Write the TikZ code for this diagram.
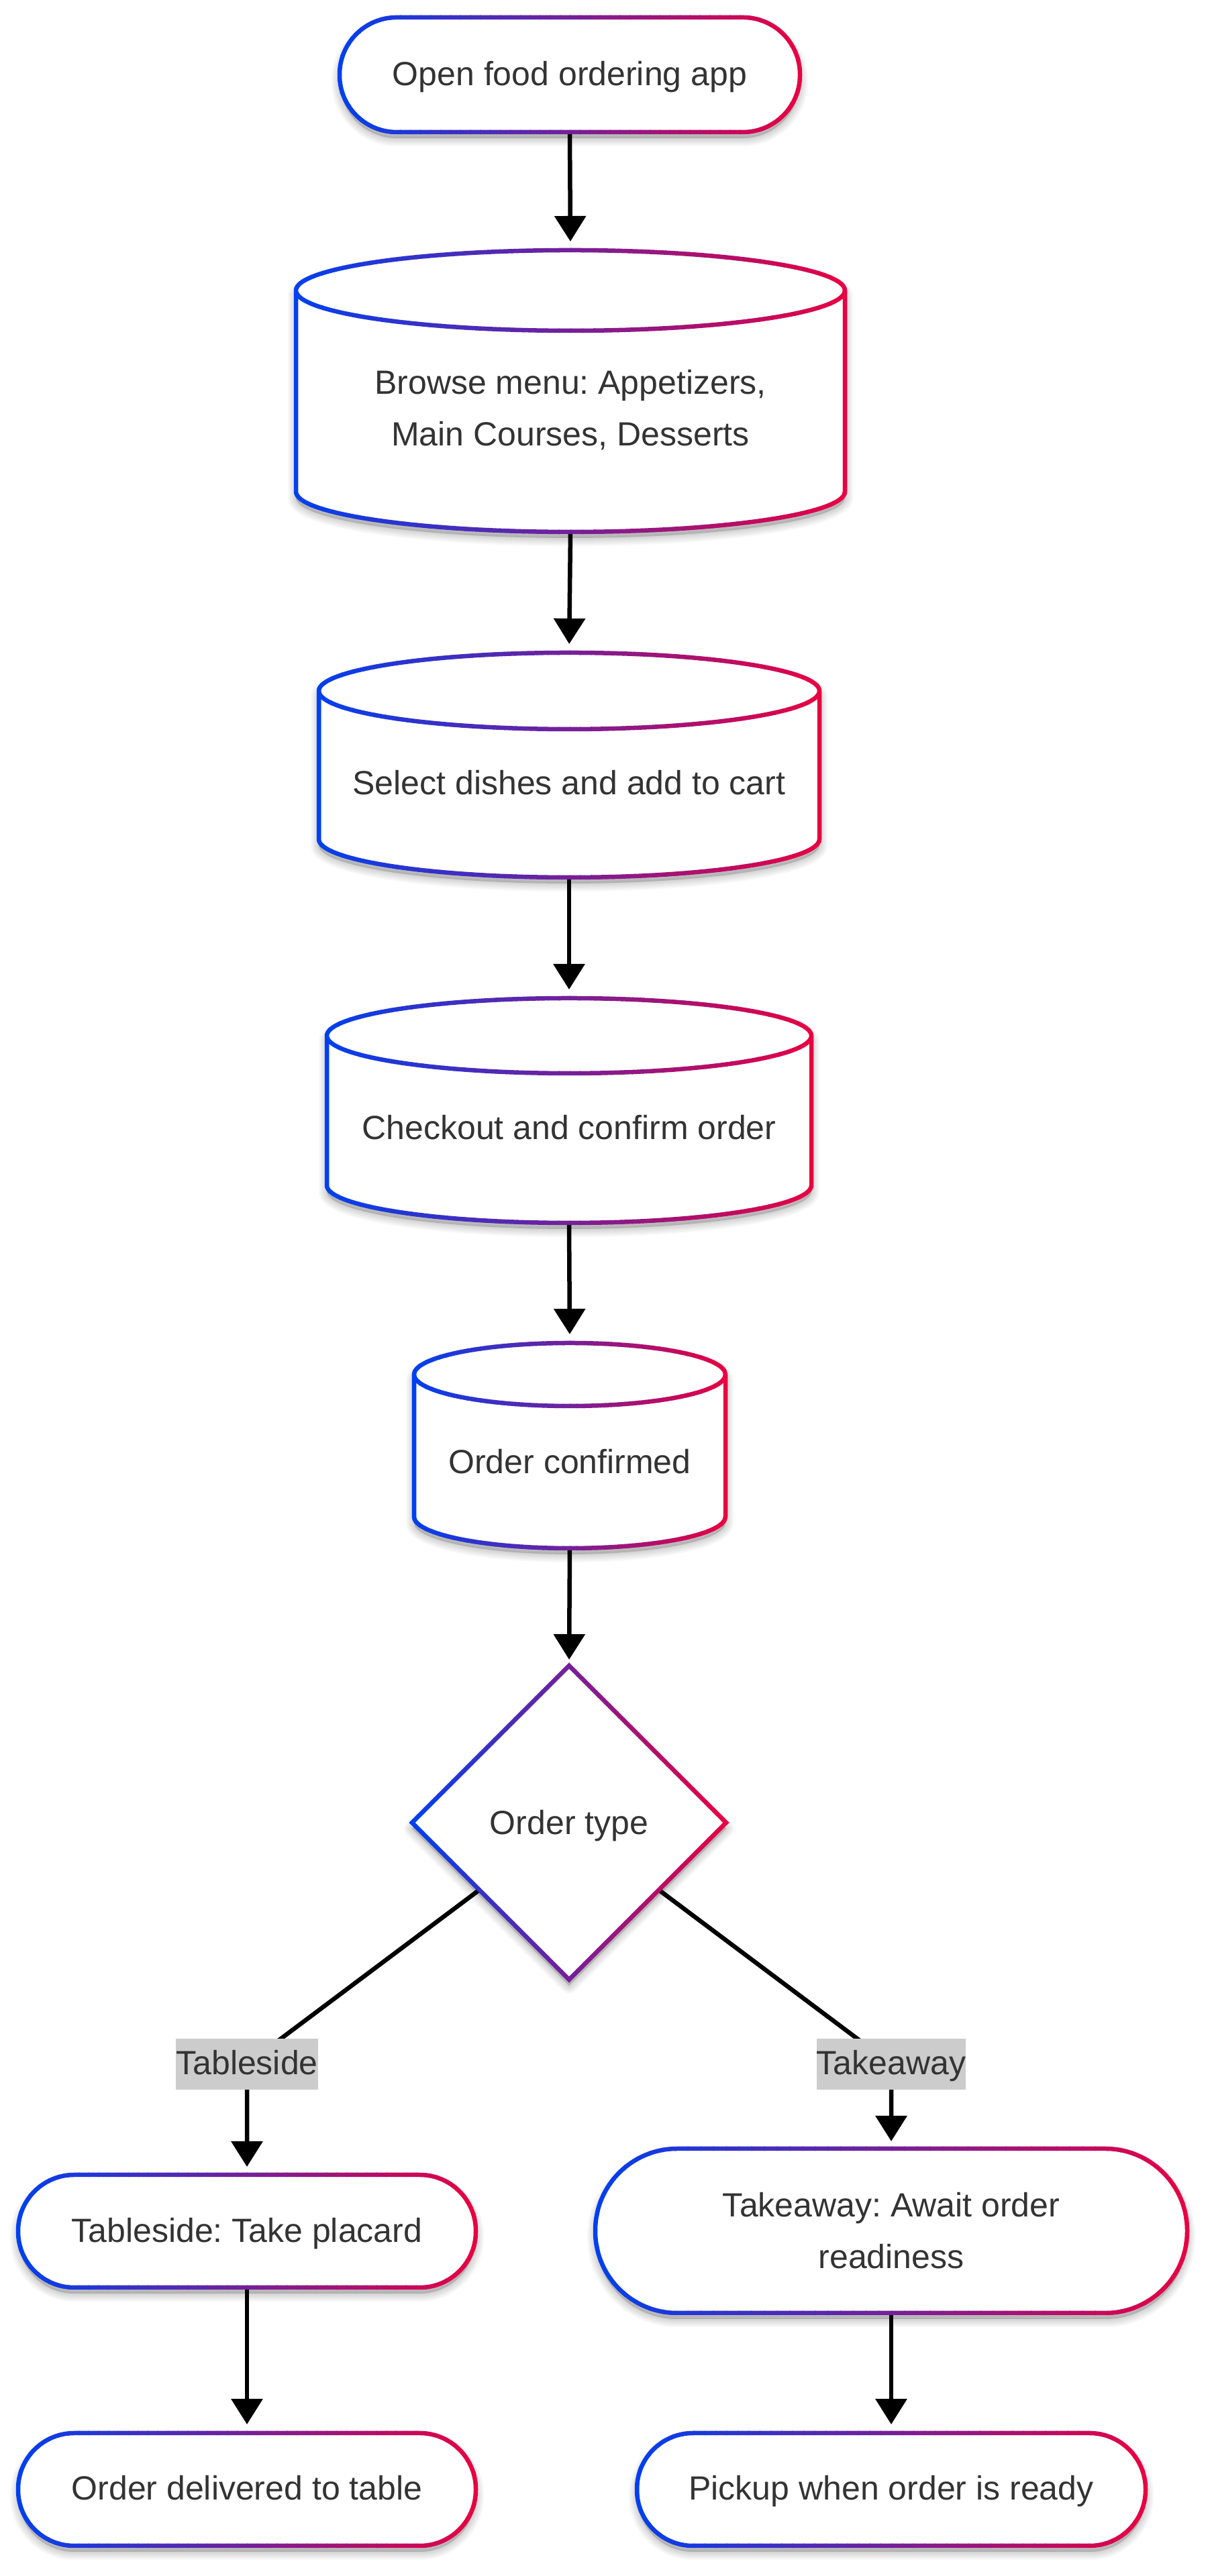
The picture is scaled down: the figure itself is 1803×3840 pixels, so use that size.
\documentclass[tikz,border=0pt]{standalone}
\usepackage{fontspec}
\setmainfont{Liberation Sans}
\usetikzlibrary{arrows.meta,shapes.geometric}
\definecolor{gradL}{RGB}{0,64,240}
\definecolor{gradR}{RGB}{232,0,66}
\definecolor{txtgray}{RGB}{51,51,51}
\definecolor{lblbg}{RGB}{204,204,204}
\pgfdeclarelayer{bglayer}
\pgfdeclarelayer{edgelayer}
\pgfsetlayers{bglayer,edgelayer,main}
\frenchspacing
\newcommand\gradstroke[5]{%
  \foreach \gi in {0,...,47}{%
    \pgfmathsetmacro\gw{(#2-#1+28)/48}%
    \pgfmathsetmacro\gxa{#1-14+\gw*\gi}%
    \pgfmathsetmacro\gxb{\gxa+\gw+1.5}%
    \pgfmathsetmacro\gt{((\gxa+\gxb)/2-#1)/(#2-#1)}%
    \pgfmathtruncatemacro\gpct{max(0,min(100,round(\gt*100)))}%
    \begin{scope}
      \clip (\gxa,#3-14) rectangle (\gxb,#4+14);
      \draw[line width=6.5pt, draw=gradR!\gpct!gradL] #5;
    \end{scope}
  }%
}
\newcommand\softshadow[1]{%
  \foreach \sk in {1,...,7}{%
    \path[fill=black, draw=black, fill opacity=0.022, draw opacity=0.022,
          line width=\sk*3.5pt, line join=round, yshift=-9pt] #1;
  }%
}
\begin{document}
\begin{tikzpicture}[x=1pt,y=1pt,
  flow/.style={draw=black, line width=6.5pt, -{Triangle[length=38pt,width=46pt]}, shorten >=13pt},
  shapebox/.style={draw=none, inner sep=0pt, outer sep=0pt},
  nodetext/.style={text=txtgray, font=\fontsize{50}{77}\selectfont\frenchspacing},
  lblbox/.style={fill=lblbg, text=txtgray, font=\fontsize{50}{77}\selectfont, inner sep=0pt, text height=54pt, text depth=22pt}
]
\begin{pgfonlayer}{bglayer}
\fill[white] (0,0) rectangle (1803,3840);
\end{pgfonlayer}
\useasboundingbox (0,0) rectangle (1803,3840);

% ---------- shapes: shadows, fills and gradient outlines ----------
% A stadium
\softshadow{[rounded corners=85pt] (506,3643) rectangle (1192,3814)}
\fill[white] [rounded corners=85pt] (506,3643) rectangle (1192,3814);
\gradstroke{506}{1192}{3643}{3814}{[rounded corners=85pt] (506,3643) rectangle (1192,3814)}
% B cylinder
\softshadow{(441,3407) -- (441,3107) arc[start angle=180,end angle=360,x radius=409,y radius=60] -- (1259,3407) arc[start angle=0,end angle=180,x radius=409,y radius=60] -- cycle}
\fill[white] (441,3407) -- (441,3107) arc[start angle=180,end angle=360,x radius=409,y radius=60] -- (1259,3407) arc[start angle=0,end angle=180,x radius=409,y radius=60] -- cycle;
\gradstroke{441}{1259}{3047}{3467}{(441,3407) -- (441,3107) arc[start angle=180,end angle=360,x radius=409,y radius=60] -- (1259,3407) arc[start angle=0,end angle=180,x radius=409,y radius=60] -- cycle (441,3407) arc[start angle=180,end angle=360,x radius=409,y radius=60]}
% C cylinder
\softshadow{(475,2810) -- (475,2589) arc[start angle=180,end angle=360,x radius=373,y radius=57] -- (1221,2810) arc[start angle=0,end angle=180,x radius=373,y radius=57] -- cycle}
\fill[white] (475,2810) -- (475,2589) arc[start angle=180,end angle=360,x radius=373,y radius=57] -- (1221,2810) arc[start angle=0,end angle=180,x radius=373,y radius=57] -- cycle;
\gradstroke{475}{1221}{2532}{2867}{(475,2810) -- (475,2589) arc[start angle=180,end angle=360,x radius=373,y radius=57] -- (1221,2810) arc[start angle=0,end angle=180,x radius=373,y radius=57] -- cycle (475,2810) arc[start angle=180,end angle=360,x radius=373,y radius=57]}
% D cylinder
\softshadow{(487,2296) -- (487,2073) arc[start angle=180,end angle=360,x radius=361,y radius=56] -- (1209,2296) arc[start angle=0,end angle=180,x radius=361,y radius=56] -- cycle}
\fill[white] (487,2296) -- (487,2073) arc[start angle=180,end angle=360,x radius=361,y radius=56] -- (1209,2296) arc[start angle=0,end angle=180,x radius=361,y radius=56] -- cycle;
\gradstroke{487}{1209}{2017}{2352}{(487,2296) -- (487,2073) arc[start angle=180,end angle=360,x radius=361,y radius=56] -- (1209,2296) arc[start angle=0,end angle=180,x radius=361,y radius=56] -- cycle (487,2296) arc[start angle=180,end angle=360,x radius=361,y radius=56]}
% E cylinder
\softshadow{(617,1791) -- (617,1579) arc[start angle=180,end angle=360,x radius=232,y radius=47] -- (1081,1791) arc[start angle=0,end angle=180,x radius=232,y radius=47] -- cycle}
\fill[white] (617,1791) -- (617,1579) arc[start angle=180,end angle=360,x radius=232,y radius=47] -- (1081,1791) arc[start angle=0,end angle=180,x radius=232,y radius=47] -- cycle;
\gradstroke{617}{1081}{1532}{1838}{(617,1791) -- (617,1579) arc[start angle=180,end angle=360,x radius=232,y radius=47] -- (1081,1791) arc[start angle=0,end angle=180,x radius=232,y radius=47] -- cycle (617,1791) arc[start angle=180,end angle=360,x radius=232,y radius=47]}
% F diamond
\softshadow{(614,1123) -- (848,1357) -- (1082,1123) -- (848,889) -- cycle}
\fill[white] (614,1123) -- (848,1357) -- (1082,1123) -- (848,889) -- cycle;
\gradstroke{614}{1082}{889}{1357}{(614,1123) -- (848,1357) -- (1082,1123) -- (848,889) -- cycle}
% G stadium
\softshadow{[rounded corners=83.5pt] (27,430) rectangle (709,598)}
\fill[white] [rounded corners=83.5pt] (27,430) rectangle (709,598);
\gradstroke{27}{709}{430}{598}{[rounded corners=83.5pt] (27,430) rectangle (709,598)}
% H stadium
\softshadow{[rounded corners=122pt] (887,392) rectangle (1769,637)}
\fill[white] [rounded corners=122pt] (887,392) rectangle (1769,637);
\gradstroke{887}{1769}{392}{637}{[rounded corners=122pt] (887,392) rectangle (1769,637)}
% I stadium
\softshadow{[rounded corners=83.5pt] (27,45) rectangle (709,213)}
\fill[white] [rounded corners=83.5pt] (27,45) rectangle (709,213);
\gradstroke{27}{709}{45}{213}{[rounded corners=83.5pt] (27,45) rectangle (709,213)}
% J stadium
\softshadow{[rounded corners=83.5pt] (949,45) rectangle (1707,213)}
\fill[white] [rounded corners=83.5pt] (949,45) rectangle (1707,213);
\gradstroke{949}{1707}{45}{213}{[rounded corners=83.5pt] (949,45) rectangle (1707,213)}

% ---------- nodes ----------
\node[shapebox, nodetext, minimum width=686pt, minimum height=171pt, text height=40pt, text depth=7pt] (A) at (849,3728.5) {Open food ordering app};
\node[shapebox, minimum width=818pt, minimum height=420pt] (B) at (850,3257) {};
\node[nodetext, inner sep=0pt, align=center, anchor=base] (Bt) at (850,3175) {Browse menu: Appetizers,\\Main Courses, Desserts};
\node[shapebox, nodetext, minimum width=746pt, minimum height=335pt, text height=100pt, text depth=11pt] (C) at (848,2699.5) {Select dishes and add to cart};
\node[shapebox, nodetext, minimum width=722pt, minimum height=335pt, text height=98pt, text depth=11pt] (D) at (848,2184.5) {Checkout and confirm order};
\node[shapebox, nodetext, minimum width=464pt, minimum height=306pt, text height=95pt, text depth=11pt] (E) at (849,1685) {Order confirmed};
\node[shapebox, diamond, nodetext, minimum width=468pt, minimum height=468pt, text height=40pt, text depth=4pt] (F) at (848,1123) {Order type};
\node[lblbox] (LT) at (368,763) {Tableside};
\node[lblbox] (LK) at (1328,763) {Takeaway};
\node[shapebox, nodetext, minimum width=682pt, minimum height=168pt, text height=40pt, text depth=6pt] (G) at (368,514) {Tableside: Take placard};
\node[shapebox, minimum width=882pt, minimum height=245pt] (H) at (1328,514.5) {};
\node[nodetext, inner sep=0pt, align=center, anchor=base] (Ht) at (1328,458) {Takeaway: Await order\\readiness};
\node[shapebox, nodetext, minimum width=682pt, minimum height=168pt, text height=40pt, text depth=8pt] (I) at (368,129) {Order delivered to table};
\node[shapebox, nodetext, minimum width=758pt, minimum height=168pt, text height=40pt, text depth=8pt] (J) at (1328,129) {Pickup when order is ready};

% ---------- connectors ----------
\begin{pgfonlayer}{edgelayer}
\draw[flow] (A.south) -- (B.north);
\draw[flow] (B.south) -- (C.north);
\draw[flow] (C.south) -- (D.north);
\draw[flow] (D.south) -- (E.north);
\draw[flow, shorten >=9pt] (E.south) -- (F.north);
\draw[flow, shorten >=12pt] (F) -- (LT.center) -- (G.north);
\draw[flow, shorten >=11pt] (F) -- (LK.center) -- (H.north);
\draw[flow] (G.south) -- (I.north);
\draw[flow] (H.south) -- (J.north);
\end{pgfonlayer}
\end{tikzpicture}
\end{document}
